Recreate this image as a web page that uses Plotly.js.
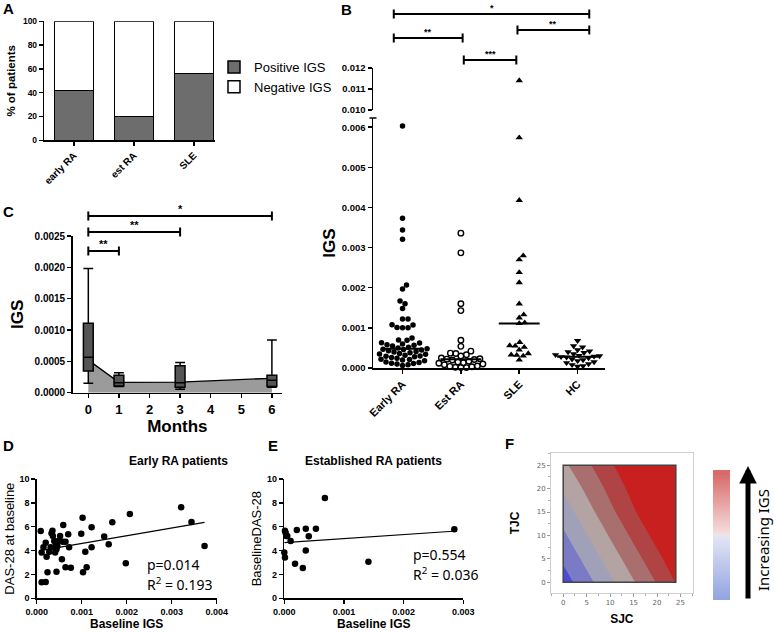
<!DOCTYPE html>
<html><head><meta charset="utf-8">
<script src="https://cdn.plot.ly/plotly-3.0.1.min.js"></script>
<style>html,body{margin:0;padding:0;background:#fff}</style>
</head><body><div id="chart" style="width:774px;height:632px"></div>
<script>
// ---------- Panel A ----------
const catsA = ['early RA', 'est RA', 'SLE'];
const posA = [42, 20, 56];
const negA = [58, 80, 44];
// ---------- Panel B ----------
const catsB = ['Early RA', 'Est RA', 'SLE', 'HC'];
const earlyRA = [0.00603,0.00373,0.00344,0.00321,0.00207,0.00197,0.00167,0.0016,0.00148,0.00122,0.00122,0.00108,0.00107,0.00101,0.001,0.001,0.00075,0.0007,0.00069,0.00063,0.00062,0.0006,0.00058,0.00057,0.00055,0.00052,0.0005,0.00048,0.00047,0.00046,0.00045,0.00043,0.00041,0.0004,0.00038,0.00036,0.00035,0.00034,0.00032,0.0003,0.00029,0.00028,0.00026,0.00024,0.00022,0.00021,0.0002,0.00018,0.00015,0.00014,0.00012,0.00011,0.0001,0.00008,0.00006];
const estRA = [0.00336,0.00287,0.0016,0.00143,0.00069,0.00054,0.00042,0.00037,0.00036,0.00033,0.0003,0.00025,0.00023,0.00022,0.00021,0.0002,0.00017,0.00015,0.00013,0.00012,0.0001,0.00008,0.00005,0.00004,0.00003,0.00002,0.00001,0.00001];
const sle = [0.0114,0.00574,0.00418,0.0028,0.0027,0.00238,0.00213,0.0016,0.00133,0.00125,0.00113,0.00111,0.00064,0.00056,0.00055,0.00052,0.00045,0.00036,0.00033,0.00032,0.0003,0.0002];
const hc = [0.00068,0.00055,0.00052,0.00045,0.00042,0.0004,0.00038,0.00035,0.00033,0.00031,0.0003,0.00029,0.00028,0.00027,0.00025,0.00022,0.0002,0.00018,0.00015,0.00013,0.0001,0.00008,0.00005,0.00004];
const mediansB = [0.00048, 0.00022, 0.00111, 0.00028];
const bracketBFrom = [-0.15, -0.15, 1.05, 1.97];
const bracketBTo = [3.2, 1.03, 1.95, 3.2];
const bracketBLabel = ['*', '**', '***', '**'];
// ---------- Panel C ----------
const months = [0, 1, 3, 6];
const cQ1 = [0.000347, 0.000107, 0.000086, 0.0001];
const cMedian = [0.000565, 0.00016, 0.00016, 0.0002];
const cQ3 = [0.00111, 0.000277, 0.00043, 0.000277];
const cLow = [0.00015, 0.0001, 0.000054, 0.000086];
const cHigh = [0.00198, 0.00032, 0.00048, 0.00084];
const cLine = [0.00052, 0.000165, 0.00017, 0.00023];
const bracketCFrom = [0, 0, 0];
const bracketCTo = [1, 3, 6];
const bracketCLabel = ['**', '**', '*'];
// ---------- Panel D ----------
const dX = [0.000089,0.00011,0.0002,0.00011,0.00015,0.0002,0.00022,0.00024,0.00028,0.00031,0.00033,0.00035,0.00036,0.00039,0.0004,0.00041,0.00043,0.00044,0.00046,0.00044,0.00047,0.00052,0.00056,0.00058,0.00059,0.00064,0.00064,0.0007,0.00072,0.00076,0.00099,0.00102,0.00103,0.00108,0.00111,0.00122,0.00122,0.0015,0.0016,0.00168,0.00198,0.00207,0.00321,0.00344,0.00373];
const dY = [5.64,1.34,1.37,3.83,4.27,4.66,3.49,2.18,3.91,4.27,5.45,5.67,5.22,4.8,4.27,3.83,4.61,4.11,4.39,2.23,4.78,5.22,3.27,4.75,6.15,4.75,2.6,5.36,4.27,2.57,5.42,6.76,2.18,3.91,2.6,4.27,5.95,5.17,4.53,6.37,2.93,7.07,7.63,6.4,4.39];
const dFitX = [0.000074, 0.00373];
const dFitY = [3.99, 6.37];
// ---------- Panel E ----------
const eX = [0,0.000011,0.000022,0.000011,0.000034,0.00005,0.000106,0.00018,0.00021,0.00031,0.00036,0.00036,0.00041,0.00053,0.00068,0.00141,0.00285];
const eY = [3.83,5.67,5.5,3.41,5.22,5.22,4.8,2.9,5.73,2.54,5.84,4.0,5.2,5.84,8.41,3.07,5.78];
const eFitX = [0, 0.00289];
const eFitY = [4.66, 5.64];
// ---------- Panel F ----------
const sjc = [0, 4, 8, 12, 16, 20, 24];
const tjc = [0, 5, 10, 15, 20, 25];
const igsSurface = [
  [0, 4, 8, 12, 16, 20, 24.3],
  [2.85, 6.85, 10.85, 14.85, 18.85, 22.85, 26.9],
  [5.7, 9.7, 13.7, 17.7, 21.7, 25.7, 29.7],
  [8.55, 12.55, 16.55, 20.55, 24.55, 28.55, 32.5],
  [11.4, 15.2, 19.0, 22.8, 26.7, 30.7, 34.7],
  [14.3, 17.9, 21.5, 25.2, 29.0, 33.0, 37.0]
];
const gradientSteps = [[0],[1],[2],[3],[4],[5],[6],[7],[8],[9],[10],[11],[12],[13],[14],[15],[16],[17],[18],[19]];

// ---------- helpers ----------
const W = 774, H = 632;
const X = p => p / W;
const Y = p => 1 - p / H;
const F = 'Liberation Sans, Arial, sans-serif';
const bf = (size, extra) => Object.assign({family: F, size: size, color: '#000', weight: 'bold'}, extra || {});

function ax(extra) {
  return Object.assign({
    showline: true, linecolor: '#000', linewidth: 1.5, ticks: 'outside', ticklen: 4,
    tickwidth: 1.5, tickcolor: '#000', showgrid: false, zeroline: false, fixedrange: true,
    tickfont: bf(9)
  }, extra);
}

// simple beeswarm layout (pixel space)
function swarm(vals, center, yScale, xScale, d) {
  const order = vals.map((v, i) => i).sort((a, b) => vals[a] - vals[b]);
  const placed = [];
  const out = new Array(vals.length);
  for (const i of order) {
    const py = vals[i] * yScale;
    let off = 0;
    for (let k = 0; k < 400; k++) {
      const cand = (k % 2 === 1 ? 1 : -1) * Math.ceil(k / 2) * 0.5;
      if (placed.every(p => Math.hypot(p[0] - cand, p[1] - py) >= d)) { off = cand; break; }
    }
    placed.push([off, py]);
    out[i] = center + off / xScale;
  }
  return out;
}

const traces = [];
// A
traces.push({type: 'bar', x: [0, 1, 2], y: posA, name: 'Positive IGS', xaxis: 'x', yaxis: 'y', width: 0.65,
  marker: {color: '#6d6d6d', line: {color: '#000', width: 1.5}}, cliponaxis: false});
traces.push({type: 'bar', x: [0, 1, 2], y: negA, name: 'Negative IGS', xaxis: 'x', yaxis: 'y', width: 0.65,
  marker: {color: '#fff', line: {color: '#000', width: 1.5}}, cliponaxis: false});

// B
const bYScale = 40100, bXScale = 58.3;
const groups = [earlyRA, estRA, sle, hc];
const symbols = ['circle', 'circle-open', 'triangle-up', 'triangle-down'];
const BREAK = 0.007;
groups.forEach((g, gi) => {
  const low = g.filter(v => v < BREAK);
  const high = g.filter(v => v >= BREAK);
  const lx = swarm(low, gi, bYScale, bXScale, 5.4);
  const open = symbols[gi] === 'circle-open';
  const mk = {symbol: symbols[gi], size: gi >= 2 ? 6.5 : 5.5, color: '#000', line: {color: '#000', width: open ? 1.4 : 0}};
  traces.push({type: 'scatter', mode: 'markers', x: lx, y: low, xaxis: 'x2', yaxis: 'y2', marker: mk, showlegend: false, cliponaxis: false});
  if (high.length) {
    traces.push({type: 'scatter', mode: 'markers', x: high.map(() => gi), y: high, xaxis: 'x2', yaxis: 'y3', marker: mk, showlegend: false, cliponaxis: false});
  }
});
const mx = [], my = [];
mediansB.forEach((m, i) => { mx.push(i - 0.35, i + 0.35, null); my.push(m, m, null); });
traces.push({type: 'scatter', mode: 'lines', x: mx, y: my, xaxis: 'x2', yaxis: 'y2', line: {color: '#000', width: 2}, showlegend: false});

// C  (area underneath, boxes on an overlaying axis so they sit on top)
traces.push({type: 'scatter', mode: 'lines', x: months, y: cLine, xaxis: 'x3', yaxis: 'y4', fill: 'tozeroy',
  fillcolor: '#9b9b9b', line: {color: '#000', width: 1.3}, showlegend: false});
traces.push({type: 'box', x: months, q1: cQ1, median: cMedian, q3: cQ3, lowerfence: cLow, upperfence: cHigh,
  xaxis: 'x3', yaxis: 'y9', width: 0.32, whiskerwidth: 1, fillcolor: '#555555', line: {color: '#000', width: 1.5},
  boxpoints: false, showlegend: false});

// D
traces.push({type: 'scatter', mode: 'markers', x: dX, y: dY, xaxis: 'x4', yaxis: 'y5', marker: {color: '#000', size: 6.5}, showlegend: false, cliponaxis: false});
traces.push({type: 'scatter', mode: 'lines', x: dFitX, y: dFitY, xaxis: 'x4', yaxis: 'y5', line: {color: '#000', width: 1.2}, showlegend: false});
// E
traces.push({type: 'scatter', mode: 'markers', x: eX, y: eY, xaxis: 'x5', yaxis: 'y6', marker: {color: '#000', size: 6.5}, showlegend: false, cliponaxis: false});
traces.push({type: 'scatter', mode: 'lines', x: eFitX, y: eFitY, xaxis: 'x5', yaxis: 'y6', line: {color: '#000', width: 1.2}, showlegend: false});

// F
const bandColors = ['#4b4bd8', '#7a7ac6', '#a0a1b9', '#b3a3a3', '#a96f6f', '#b04444', '#c81f1f'];
traces.push({type: 'contour', x: sjc, y: tjc, z: igsSurface, xaxis: 'x6', yaxis: 'y7', autocontour: false,
  contours: {start: 2.1, end: 24.1, size: 4.4, coloring: 'fill', showlines: false},
  line: {width: 0}, colorscale: bandColors.map((c, i) => [i / 6, c]), showscale: false, hoverinfo: 'skip'});
traces.push({type: 'heatmap', z: gradientSteps, xaxis: 'x7', yaxis: 'y8', zsmooth: 'best', showscale: false,
  colorscale: [[0, '#94a6e2'], [0.5, '#e3e6f5'], [0.5001, '#f6e2e2'], [1, '#d96a6a']], hoverinfo: 'skip'});

// ---------- shapes ----------
const shapes = [];
function bracket(xref, x0, x1, yPx) {
  const lw = {color: '#000', width: 2};
  shapes.push({type: 'line', xref: xref, yref: 'paper', x0: x0, x1: x1, y0: Y(yPx), y1: Y(yPx), line: lw});
  shapes.push({type: 'line', xref: xref, yref: 'paper', x0: x0, x1: x0, y0: Y(yPx - 4.5), y1: Y(yPx + 4.5), line: lw});
  shapes.push({type: 'line', xref: xref, yref: 'paper', x0: x1, x1: x1, y0: Y(yPx - 4.5), y1: Y(yPx + 4.5), line: lw});
}
const annotations = [];
const bY = [14, 38, 60, 30];
bracketBFrom.forEach((f, i) => {
  bracket('x2', f, bracketBTo[i], bY[i]);
  annotations.push({xref: 'x2', yref: 'paper', x: (f + bracketBTo[i]) / 2, y: Y(bY[i] - 6), text: bracketBLabel[i],
    showarrow: false, font: bf(9), yanchor: 'middle'});
});
const cY = [251, 232, 216];
bracketCFrom.forEach((f, i) => {
  bracket('x3', f, bracketCTo[i], cY[i]);
  annotations.push({xref: 'x3', yref: 'paper', x: (f + bracketCTo[i]) / 2, y: Y(cY[i] - 7), text: bracketCLabel[i],
    showarrow: false, font: bf(11), yanchor: 'middle'});
});
// broken-axis cap in B
shapes.push({type: 'line', xref: 'paper', yref: 'paper', x0: X(369.5), x1: X(376.5), y0: Y(118), y1: Y(118), line: {color: '#000', width: 1.5}});
// F data frame
shapes.push({type: 'rect', xref: 'x6', yref: 'y7', x0: 0, x1: 24, y0: 0, y1: 25, line: {color: '#444', width: 1.5}});

// panel letters
[['A', 8, 9], ['B', 346, 10], ['C', 8, 211], ['D', 8, 445], ['E', 273, 445], ['F', 510, 443]].forEach(l => {
  annotations.push({xref: 'paper', yref: 'paper', x: X(l[1]), y: Y(l[2]), text: l[0], showarrow: false, font: bf(15), xanchor: 'center', yanchor: 'middle'});
});
annotations.push({xref: 'paper', yref: 'paper', x: X(127), y: Y(461), text: 'Early RA patients', showarrow: false, font: bf(12), yanchor: 'middle'});
annotations.push({xref: 'paper', yref: 'paper', x: X(373), y: Y(461), text: 'Established RA patients', showarrow: false, font: bf(12), yanchor: 'middle'});
const nf = {family: 'Noto Sans, Open Sans, sans-serif', size: 14, color: '#000'};
annotations.push({xref: 'paper', yref: 'paper', x: X(145), y: Y(564), text: 'p=0.014', showarrow: false, font: nf, xanchor: 'left', yanchor: 'middle'});
annotations.push({xref: 'paper', yref: 'paper', x: X(145), y: Y(584), text: 'R<sup>2</sup> = 0.193', showarrow: false, font: nf, xanchor: 'left', yanchor: 'middle'});
annotations.push({xref: 'paper', yref: 'paper', x: X(411), y: Y(554), text: 'p=0.554', showarrow: false, font: nf, xanchor: 'left', yanchor: 'middle'});
annotations.push({xref: 'paper', yref: 'paper', x: X(411), y: Y(574), text: 'R<sup>2</sup> = 0.036', showarrow: false, font: nf, xanchor: 'left', yanchor: 'middle'});
annotations.push({xref: 'paper', yref: 'paper', x: X(763), y: Y(540), text: 'Increasing IGS', textangle: -90, showarrow: false,
  font: {family: 'Noto Sans, Open Sans, sans-serif', size: 15, color: '#000'}, xanchor: 'center', yanchor: 'middle'});
annotations.push({xref: 'paper', yref: 'paper', x: X(748), y: Y(466), ax: 0, ay: 134, text: '', showarrow: true,
  arrowhead: 2, arrowwidth: 5, arrowsize: 0.7, arrowcolor: '#000'});

const layout = {
  width: W, height: H, margin: {l: 0, r: 0, t: 0, b: 0}, paper_bgcolor: '#fff', plot_bgcolor: 'rgba(0,0,0,0)',
  barmode: 'stack', hovermode: false, showlegend: true,
  font: {family: F, color: '#000'},
  legend: {x: X(214), y: Y(52), xanchor: 'left', yanchor: 'top', traceorder: 'normal',
    font: {family: F, size: 13, color: '#000'}, bgcolor: 'rgba(0,0,0,0)'},
  xaxis: ax({domain: [X(44.3), X(214.5)], anchor: 'y', range: [-0.492, 2.345], tickvals: [0, 1, 2], ticktext: catsA, tickangle: -45, tickfont: bf(10)}),
  yaxis: ax({domain: [Y(140.3), Y(21.3)], anchor: 'x', range: [0, 100], dtick: 20, tickfont: bf(8.5),
    title: {text: '% of patients', font: bf(11.5), standoff: 5}}),
  xaxis2: ax({domain: [X(373), X(605)], anchor: 'y2', range: [-0.506, 3.47], tickvals: [0, 1, 2, 3], ticktext: catsB, tickangle: -45, tickfont: bf(11)}),
  yaxis2: ax({domain: [Y(368), Y(118)], anchor: 'x2', range: [0, 0.00623], dtick: 0.001, tickformat: '.3f', tickfont: bf(9.5),
    title: {text: 'IGS', font: bf(17), standoff: 2}}),
  yaxis3: ax({domain: [Y(110), Y(68)], anchor: 'x2', range: [0.010, 0.012], tickvals: [0.010, 0.011, 0.012], tickformat: '.3f', tickfont: bf(9.5)}),
  xaxis3: ax({domain: [X(72.7), X(282)], anchor: 'y4', range: [-0.51, 6.33], dtick: 1, tickfont: bf(13),
    title: {text: 'Months', font: bf(17), standoff: 3}}),
  yaxis4: ax({domain: [Y(392.7), Y(236)], anchor: 'x3', range: [0, 0.0025], dtick: 0.0005, tickformat: '.4f', tickfont: bf(10),
    title: {text: 'IGS', font: bf(17), standoff: 6}}),
  yaxis9: {overlaying: 'y4', anchor: 'x3', range: [0, 0.0025], visible: false, fixedrange: true},
  xaxis4: ax({domain: [X(36.7), X(216.7)], anchor: 'y5', range: [0, 0.004], dtick: 0.001, tickformat: '.3f',
    title: {text: 'Baseline IGS', font: bf(12), standoff: 3}}),
  yaxis5: ax({domain: [Y(598.3), Y(479)], anchor: 'x4', range: [0, 10], dtick: 2,
    title: {text: 'DAS-28 at baseline', font: {family: F, size: 13, color: '#000'}, standoff: 2}}),
  xaxis5: ax({domain: [X(284.3), X(463.3)], anchor: 'y6', range: [0, 0.003], dtick: 0.001, tickformat: '.3f',
    title: {text: 'Baseline IGS', font: bf(12), standoff: 3}}),
  yaxis6: ax({domain: [Y(598.3), Y(479)], anchor: 'x5', range: [0, 10], dtick: 2,
    title: {text: 'BaselineDAS-28', font: {family: F, size: 13, color: '#000'}, standoff: 2}}),
  xaxis6: ax({domain: [X(551), X(692.7)], anchor: 'y7', range: [-2.6, 27.6], tickvals: [0, 5, 10, 15, 20, 25], mirror: true,
    linecolor: '#cfcfcf', linewidth: 1, tickcolor: '#999', tickwidth: 1, ticklen: 3,
    minor: {ticks: 'outside', dtick: 2.5, ticklen: 2, tickcolor: '#aaa'},
    tickfont: {family: 'DejaVu Sans, sans-serif', size: 7, color: '#666'},
    title: {text: 'SJC', font: bf(12), standoff: 8}}),
  yaxis7: ax({domain: [Y(593), Y(453)], anchor: 'x6', range: [-2.3, 27.6], tickvals: [0, 5, 10, 15, 20, 25], mirror: true,
    linecolor: '#cfcfcf', linewidth: 1, tickcolor: '#999', tickwidth: 1, ticklen: 3,
    minor: {ticks: 'outside', dtick: 2.5, ticklen: 2, tickcolor: '#aaa'},
    tickfont: {family: 'DejaVu Sans, sans-serif', size: 7, color: '#666'},
    title: {text: 'TJC', font: bf(12), standoff: 14}}),
  xaxis7: {domain: [X(713), X(730)], anchor: 'y8', visible: false, fixedrange: true},
  yaxis8: {domain: [Y(600), Y(470)], anchor: 'x7', visible: false, fixedrange: true},
  shapes: shapes,
  annotations: annotations
};

Plotly.newPlot('chart', traces, layout, {staticPlot: true, displayModeBar: false});
</script>
</body></html>
